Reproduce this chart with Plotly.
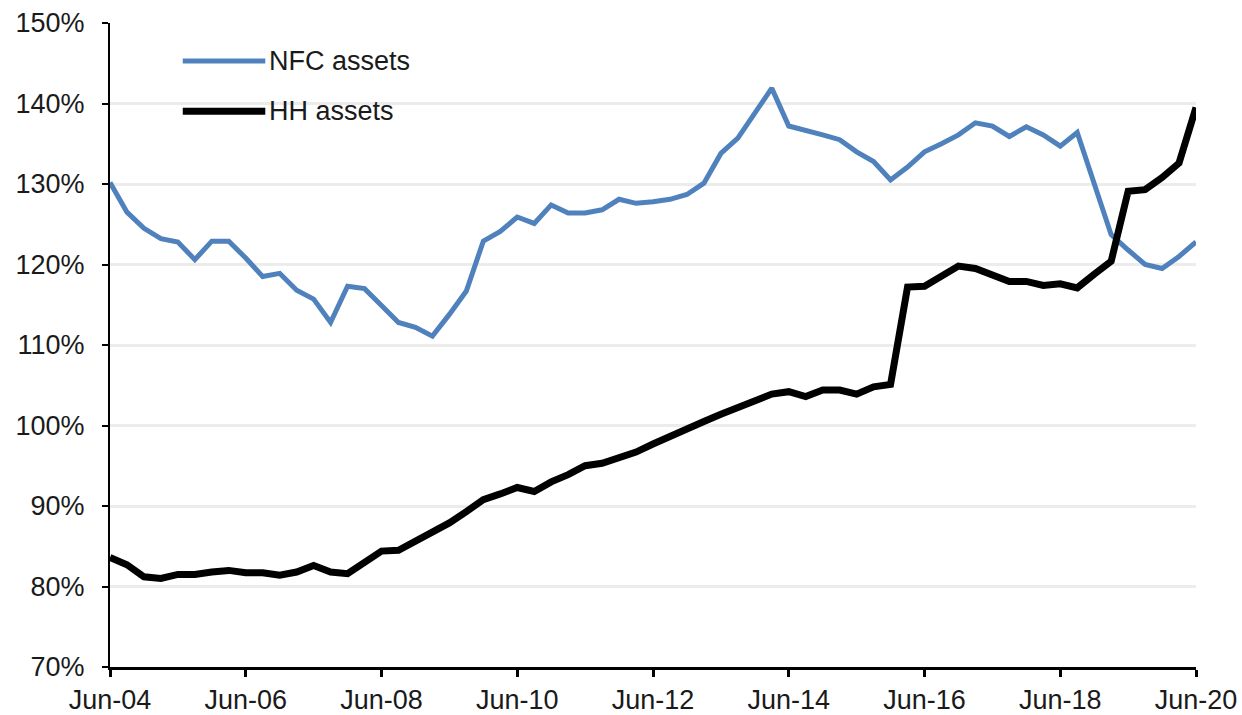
"""Corporate vs household assets, quarterly, Jun-04 to Jun-20."""

import plotly.graph_objects as go

# ---------------------------------------------------------------------------
# Data (quarterly, % share)
# ---------------------------------------------------------------------------

tick_labels = [
    "Jun-04", "Jun-06", "Jun-08", "Jun-10", "Jun-12",
    "Jun-14", "Jun-16", "Jun-18", "Jun-20",
]

nfc_assets = [
    130.2, 126.5, 124.5, 123.2, 122.8, 120.6, 122.9, 122.9, 120.8, 118.5,
    118.9, 116.8, 115.7, 112.8, 117.3, 117.0, 114.9, 112.8, 112.2, 111.1,
    113.8, 116.7, 122.9, 124.1, 125.9, 125.1, 127.4, 126.4, 126.4, 126.8,
    128.1, 127.6, 127.8, 128.1, 128.7, 130.1, 133.8, 135.7, 138.8, 141.9,
    137.2, 136.7, 136.1, 135.5, 134.0, 132.8, 130.5, 132.1, 134.0, 135.0,
    136.1, 137.6, 137.2, 135.9, 137.1, 136.1, 134.7, 136.4, 130.1, 123.7,
    121.8, 120.0, 119.5, 121.0, 122.8,
]

hh_assets = [
    83.6, 82.7, 81.2, 81.0, 81.5, 81.5, 81.8, 82.0, 81.7, 81.7,
    81.4, 81.8, 82.6, 81.8, 81.6, 83.0, 84.4, 84.5, 85.6, 86.8,
    87.9, 89.3, 90.8, 91.5, 92.3, 91.8, 93.0, 93.9, 95.0, 95.3,
    95.9, 96.7, 97.7, 98.7, 99.6, 100.5, 101.4, 102.2, 102.9, 103.9,
    104.2, 103.6, 104.4, 104.4, 103.9, 104.8, 105.1, 117.2, 117.3, 118.5,
    119.8, 119.5, 118.8, 117.9, 117.9, 117.4, 117.6, 117.1, 118.8, 120.4,
    129.1, 129.3, 130.8, 132.6, 139.5,
]

quarters = list(range(len(nfc_assets)))

NFC_COLOR = "#4f81bd"
HH_COLOR = "#000000"
FONT = "Liberation Sans, Arial, sans-serif"
TEXT_COLOR = "#1a1a1a"

# ---------------------------------------------------------------------------
# Figure
# ---------------------------------------------------------------------------

fig = go.Figure()
fig.add_trace(
    go.Scatter(
        x=quarters,
        y=nfc_assets,
        mode="lines",
        name="NFC assets",
        line=dict(color=NFC_COLOR, width=5),
        showlegend=False,
    )
)
fig.add_trace(
    go.Scatter(
        x=quarters,
        y=hh_assets,
        mode="lines",
        name="HH assets",
        line=dict(color=HH_COLOR, width=7),
        showlegend=False,
    )
)

# hand-made legend (long line swatches like the original)
legend_items = [("NFC assets", NFC_COLOR, 5, 0.941), ("HH assets", HH_COLOR, 7, 0.863)]
for label, color, width, ypos in legend_items:
    fig.add_shape(
        type="line", xref="paper", yref="paper",
        x0=0.067, x1=0.143, y0=ypos, y1=ypos,
        line=dict(color=color, width=width),
    )
    fig.add_annotation(
        text=label, xref="paper", yref="paper",
        x=0.145, y=ypos, xanchor="left", yanchor="middle",
        showarrow=False, font=dict(family=FONT, size=27, color=TEXT_COLOR),
    )

fig.update_layout(
    width=1242,
    height=715,
    margin=dict(l=110, r=46, t=23, b=48, autoexpand=False),
    plot_bgcolor="white",
    paper_bgcolor="white",
    font=dict(family=FONT, size=27, color=TEXT_COLOR),
    xaxis=dict(
        range=[0, len(quarters) - 1],
        tickvals=quarters[::8],
        ticktext=tick_labels,
        automargin=False,
        showgrid=False,
        zeroline=False,
        showline=True,
        linecolor="black",
        linewidth=3,
        ticks="outside",
        ticklen=7,
        tickwidth=3,
        tickcolor="black",
    ),
    yaxis=dict(
        range=[70, 150],
        dtick=10,
        ticksuffix="%",
        automargin=False,
        ticklabelstandoff=12,
        showgrid=True,
        gridcolor="#ececec",
        gridwidth=3,
        zeroline=False,
        showline=True,
        linecolor="black",
        linewidth=2,
        ticks="outside",
        ticklen=6,
        tickwidth=2,
        tickcolor="black",
    ),
)

# drop the page's default 8px body margin so the figure fills the window
fig.write_html(
    "out.html",
    config={"displayModeBar": False},
    post_script="document.body.style.margin='0';document.body.style.overflow='hidden';",
)
